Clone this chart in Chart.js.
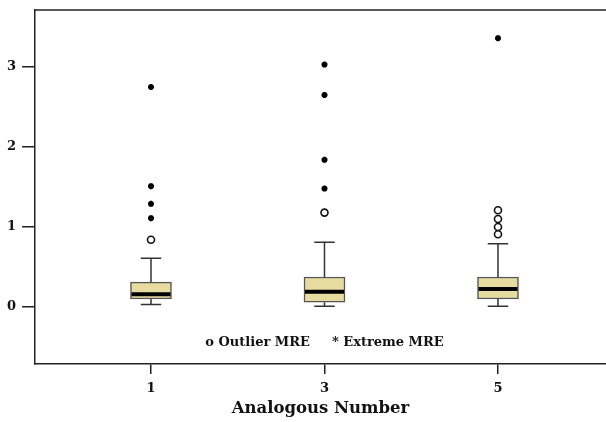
<!DOCTYPE html>
<html>
<head>
<meta charset="utf-8">
<script src="https://cdn.jsdelivr.net/npm/chart.js@4/dist/chart.umd.min.js"></script>
<style>
  html, body { margin: 0; padding: 0; background: #fff; }
  #wrap { width: 606px; height: 422px; }
</style>
</head>
<body>
<div id="wrap"><canvas id="chart"></canvas></div>
<script>
// Values (MRE per analogous number).
const categories = [1, 3, 5];
const whiskerLow = [0.03, 0.01, 0.01];
const q1 = [0.10, 0.06, 0.10];
const median = [0.16, 0.19, 0.225];
const q3 = [0.31, 0.375, 0.375];
const whiskerHigh = [0.61, 0.81, 0.79];
const outliers = [[0.84], [1.18], [1.21, 1.10, 1.00, 0.91]];
const extremes = [[2.75, 1.51, 1.29, 1.11], [3.03, 2.65, 1.84, 1.48], [3.36]];
const yTicks = [0, 1, 2, 3];
const legendOutlier = "o Outlier MRE";
const legendExtreme = "* Extreme MRE";

const serif = "'DejaVu Serif', 'Liberation Serif', serif";
const BOX_W = 41;

function points(groups) {
  const out = [];
  groups.forEach((vals, i) => vals.forEach(v => out.push({ x: categories[i], y: v })));
  return out;
}

// whiskers under the boxes, medians, frame top line and legend text on top
const boxExtras = {
  id: "boxExtras",
  beforeDatasetsDraw(chart) {
    const { ctx, scales: { x, y } } = chart;
    ctx.save();
    ctx.strokeStyle = "#333";
    ctx.lineWidth = 1.5;
    categories.forEach((c, i) => {
      const px = x.getPixelForValue(c);
      ctx.beginPath();
      ctx.moveTo(px, y.getPixelForValue(q3[i]));
      ctx.lineTo(px, y.getPixelForValue(whiskerHigh[i]));
      ctx.moveTo(px, y.getPixelForValue(q1[i]));
      ctx.lineTo(px, y.getPixelForValue(whiskerLow[i]));
      ctx.moveTo(px - BOX_W / 4, y.getPixelForValue(whiskerHigh[i]));
      ctx.lineTo(px + BOX_W / 4, y.getPixelForValue(whiskerHigh[i]));
      ctx.moveTo(px - BOX_W / 4, y.getPixelForValue(whiskerLow[i]));
      ctx.lineTo(px + BOX_W / 4, y.getPixelForValue(whiskerLow[i]));
      ctx.stroke();
    });
    ctx.restore();
  },
  afterDatasetsDraw(chart) {
    const { ctx, chartArea, scales: { x, y } } = chart;
    ctx.save();
    ctx.strokeStyle = "#000";
    ctx.lineWidth = 4;
    categories.forEach((c, i) => {
      const px = x.getPixelForValue(c);
      const py = y.getPixelForValue(median[i]);
      ctx.beginPath();
      ctx.moveTo(px - BOX_W / 2 + 1, py);
      ctx.lineTo(px + BOX_W / 2 - 1, py);
      ctx.stroke();
    });
    ctx.lineWidth = 1.5;
    ctx.strokeStyle = "#222";
    ctx.beginPath();
    ctx.moveTo(chartArea.left, chartArea.top);
    ctx.lineTo(chartArea.right, chartArea.top);
    ctx.stroke();

    ctx.fillStyle = "#111";
    ctx.font = "bold 13px " + serif;
    ctx.textBaseline = "middle";
    const ly = y.getPixelForValue(-0.45);
    const cx = x.getPixelForValue(3);
    const gap = 22;
    const w1 = ctx.measureText(legendOutlier).width;
    const w2 = ctx.measureText(legendExtreme).width;
    const start = cx - (w1 + gap + w2) / 2;
    ctx.textAlign = "left";
    ctx.fillText(legendOutlier, start, ly);
    ctx.fillText(legendExtreme, start + w1 + gap, ly);
    ctx.restore();
  }
};

new Chart(document.getElementById("chart"), {
  type: "bar",
  data: {
    datasets: [
      {
        type: "bar",
        data: categories.map((c, i) => ({ x: c, y: [q1[i], q3[i]] })),
        backgroundColor: "#e7dc9f",
        borderColor: "#555",
        borderWidth: 1.5,
        borderSkipped: false,
        barThickness: BOX_W,
        order: 2
      },
      {
        type: "scatter",
        data: points(outliers),
        pointStyle: "circle",
        pointRadius: 3.5,
        backgroundColor: "#fff",
        borderColor: "#111",
        borderWidth: 1.6,
        order: 1
      },
      {
        type: "scatter",
        data: points(extremes),
        pointStyle: "star",
        pointRadius: 3,
        backgroundColor: "#000",
        borderColor: "#000",
        borderWidth: 2,
        order: 1
      }
    ]
  },
  plugins: [boxExtras],
  options: {
    responsive: true,
    maintainAspectRatio: false,
    animation: false,
    layout: { autoPadding: false, padding: { top: 10, right: 0, bottom: 0, left: 0 } },
    plugins: {
      legend: { display: false },
      tooltip: { enabled: false }
    },
    scales: {
      x: {
        type: "linear",
        offset: false,
        min: -0.337,
        max: 6.245,
        afterBuildTicks: (s) => { s.ticks = categories.map(v => ({ value: v })); },
        afterFit: (s) => { s.height = 58; s.paddingLeft = 0; s.paddingRight = 0; },
        grid: { offset: false, drawOnChartArea: false, drawTicks: true, tickLength: 10, color: "#222", lineWidth: 1.5 },
        border: { display: true, color: "#222", width: 1.5 },
        ticks: { color: "#111", padding: 7, font: { family: serif, size: 13, weight: "bold" } },
        title: {
          display: true,
          text: "Analogous Number",
          color: "#111",
          padding: { top: 0, bottom: 3 },
          font: { family: serif, size: 16.5, weight: "bold" }
        }
      },
      y: {
        min: -0.7125,
        max: 3.7125,
        afterBuildTicks: (s) => { s.ticks = yTicks.map(v => ({ value: v })); },
        afterFit: (s) => { s.width = 35; s.paddingTop = 0; s.paddingBottom = 0; },
        grid: { drawOnChartArea: false, drawTicks: true, tickLength: 13, color: "#222", lineWidth: 1.5 },
        border: { display: true, color: "#222", width: 1.5 },
        ticks: { color: "#111", padding: 6, font: { family: serif, size: 13, weight: "bold" } }
      }
    }
  }
});
</script>
</body>
</html>
